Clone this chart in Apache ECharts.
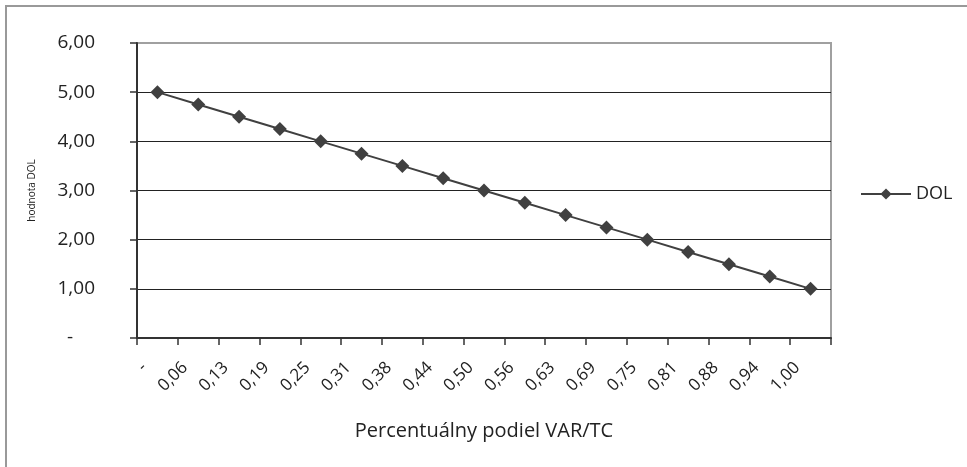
<!DOCTYPE html>
<html>
<head>
<meta charset="utf-8">
<script src="https://cdn.jsdelivr.net/npm/echarts@6/dist/echarts.min.js"></script>
<style>
html, body { margin: 0; padding: 0; background: #fff; }
#chart { width: 967px; height: 467px; }
</style>
</head>
<body>
<div id="chart"></div>
<script>
// x tick labels (podiel VAR/TC)
var xLabels = ['-', '0,06', '0,13', '0,19', '0,25', '0,31', '0,38', '0,44', '0,50',
  '0,56', '0,63', '0,69', '0,75', '0,81', '0,88', '0,94', '1,00'];
// DOL values
var dolValues = [5.00, 4.75, 4.50, 4.25, 4.00, 3.75, 3.50, 3.25, 3.00,
  2.75, 2.50, 2.25, 2.00, 1.75, 1.50, 1.25, 1.00];
// y tick labels
var yLabels = ['-', '1,00', '2,00', '3,00', '4,00', '5,00', '6,00'];

var chartDom = document.getElementById('chart');
var myChart = echarts.init(chartDom);

// points sit in the middle of each category, labels at category edges
var points = dolValues.map(function (v, i) { return [i + 0.5, v]; });

var fontFam = '"Open Sans", sans-serif';

var option = {
  animation: false,
  textStyle: { fontFamily: fontFam },
  graphic: [{
    type: 'rect',
    shape: { x: 6, y: 6, width: 980, height: 480 },
    style: { fill: 'none', stroke: '#999', lineWidth: 2 },
    z: -10
  }],
  grid: {
    left: 137, top: 43, right: 136, bottom: 129,
    show: true, borderColor: '#a0a0a0', borderWidth: 2
  },
  legend: {
    left: 855, top: 180,
    itemWidth: 50, itemHeight: 14,
    textStyle: { fontSize: 18, color: '#222', fontFamily: fontFam },
    data: ['DOL']
  },
  xAxis: {
    type: 'value',
    min: 0, max: xLabels.length, interval: 1,
    name: 'Percentuálny podiel VAR/TC',
    nameLocation: 'middle',
    nameGap: 83,
    nameTextStyle: { fontSize: 20, color: '#222', fontFamily: fontFam },
    axisLine: { show: true, lineStyle: { color: '#333', width: 2 } },
    axisTick: { show: true, length: 7, lineStyle: { color: '#333', width: 1.5 } },
    splitLine: { show: false },
    axisLabel: {
      rotate: 45, margin: 34, fontSize: 17, color: '#222',
      padding: [0, -10, 0, 0],
      formatter: function (v) { return xLabels[v] !== undefined ? xLabels[v] : ''; }
    }
  },
  yAxis: {
    type: 'value',
    min: 0, max: 6, interval: 1,
    name: 'hodnota DOL',
    nameLocation: 'middle',
    nameGap: 100,
    nameTextStyle: { fontSize: 10, color: '#222', fontFamily: fontFam },
    axisLine: { show: true, lineStyle: { color: '#333', width: 2 } },
    axisTick: { show: true, length: 7, lineStyle: { color: '#333', width: 1.5 } },
    splitLine: {
      show: true,
      lineStyle: { color: ['#222', '#222', '#222', '#222', '#222', '#222', '#a0a0a0'], width: 1 }
    },
    axisLabel: {
      margin: 42, fontSize: 19, color: '#222',
      formatter: function (v) { return v === 0 ? '{d|' + yLabels[v] + '}' : yLabels[v]; },
      rich: { d: { fontSize: 19, color: '#222', padding: [0, 22, 0, 0] } }
    }
  },
  series: [{
    name: 'DOL',
    type: 'line',
    data: points,
    symbol: 'diamond',
    symbolSize: 14,
    itemStyle: { color: '#404040' },
    lineStyle: { color: '#404040', width: 2 }
  }]
};

myChart.setOption(option);
</script>
</body>
</html>
